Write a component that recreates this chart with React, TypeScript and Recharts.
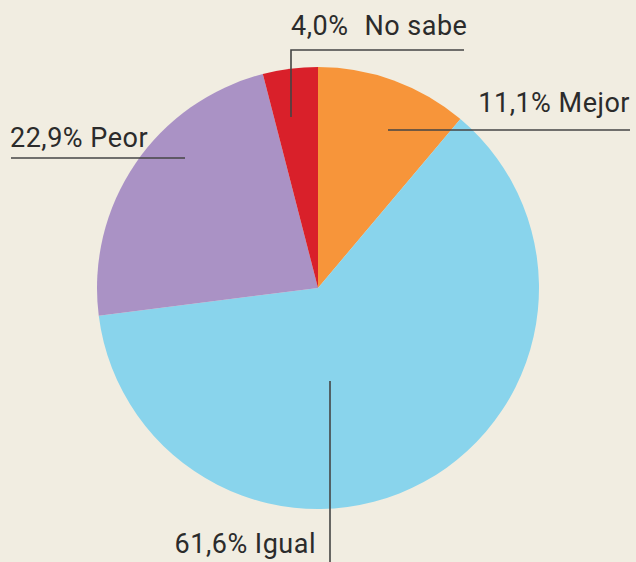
import { PieChart, Pie, Cell } from 'recharts';

const categories = ['Mejor', 'Igual', 'Peor', 'No sabe'];
const shares = [11.1, 61.6, 22.9, 4.0];
const COLORS = ['#f7953a', '#89d4ec', '#aa92c5', '#d9202a'];

const data = categories.map((name, i) => ({ name, value: shares[i] }));

// label layout relative to the pie centre: leader line points and text anchor
const LABELS = [
  { line: [[70, -158], [312, -158]], text: [312, -176], anchor: 'end' },
  { line: [[12, 93], [12, 274]], text: [-2, 265], anchor: 'end' },
  { line: [[-133, -130], [-307, -130]], text: [-308, -141], anchor: 'start' },
  { line: [[-27, -171], [-27, -238], [146, -238]], text: [-27, -253], anchor: 'start' },
];

const fmt = (v: number) => v.toFixed(1).replace('.', ',') + '%';

function renderLabel(props: any) {
  const { cx, cy, index, name, value } = props;
  const l = LABELS[index];
  const pts = l.line.map(([x, y]) => `${cx + x},${cy + y}`).join(' ');
  return (
    <g key={`lbl-${index}`}>
      <polyline points={pts} fill="none" stroke="#444" strokeWidth={1.6} />
      <text
        x={cx + l.text[0]}
        y={cy + l.text[1]}
        textAnchor={l.anchor as any}
        fill="#2b2b2b"
        fontSize={27}
        letterSpacing={0.5}
        fontFamily="Roboto, sans-serif"
      >
        {index === 3 ? (
          <>
            <tspan>{fmt(value)}</tspan>
            <tspan dx={16}>{name}</tspan>
          </>
        ) : (
          `${fmt(value)} ${name}`
        )}
      </text>
    </g>
  );
}

export default function App() {
  return (
    <div style={{ width: 636, height: 562, background: '#f1ede1' }}>
      <style>{'body{margin:0}'}</style>
      <PieChart width={636} height={562} margin={{ top: 0, right: 0, bottom: 0, left: 0 }}>
        <Pie
          data={data}
          dataKey="value"
          nameKey="name"
          cx={318}
          cy={288}
          outerRadius={221}
          startAngle={90}
          endAngle={-270}
          stroke="none"
          labelLine={false}
          label={renderLabel}
          isAnimationActive={false}
        >
          {data.map((entry, index) => (
            <Cell key={`cell-${index}`} fill={COLORS[index % COLORS.length]} />
          ))}
        </Pie>
      </PieChart>
    </div>
  );
}
